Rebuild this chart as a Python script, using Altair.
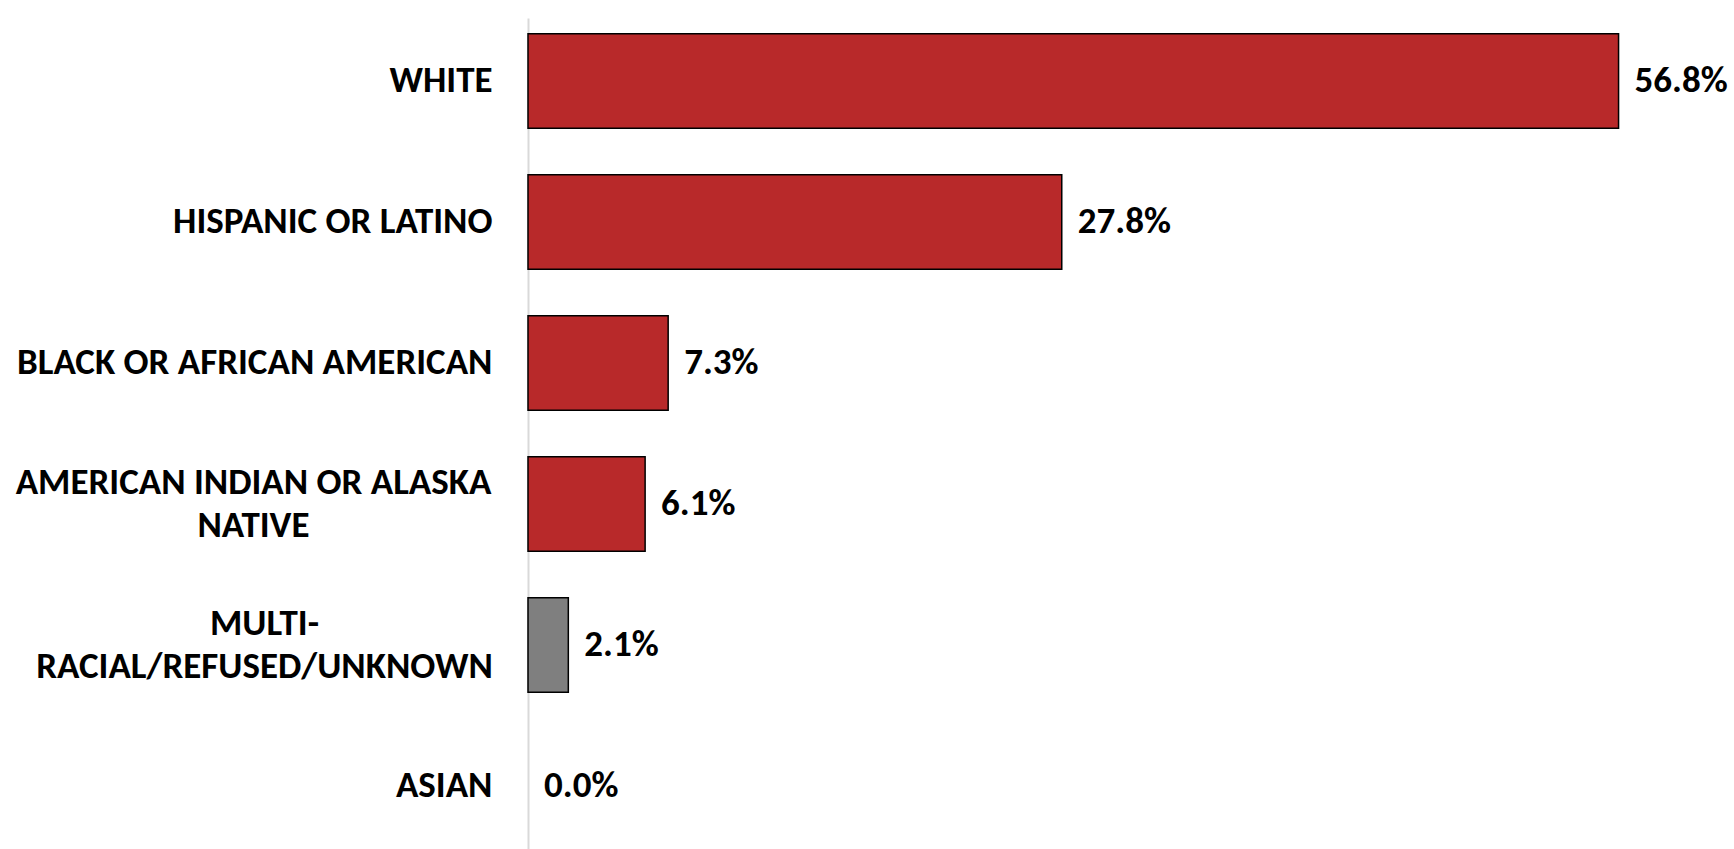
import altair as alt
import pandas as pd

categories = [
    "WHITE",
    "HISPANIC OR LATINO",
    "BLACK OR AFRICAN AMERICAN",
    "AMERICAN INDIAN OR ALASKA|NATIVE",
    "MULTI-|RACIAL/REFUSED/UNKNOWN",
    "ASIAN",
]
values = [56.8, 27.8, 7.3, 6.1, 2.1, 0.0]
groups = ["main", "main", "main", "main", "other", "main"]

df = pd.DataFrame({"category": categories, "value": values, "group": groups})

FONT = "Carlito, Lato, Calibri, sans-serif"
FS = 37

y_enc = alt.Y(
    "category:N",
    sort=categories,
    scale=alt.Scale(paddingInner=0.33, paddingOuter=0.112),
    axis=alt.Axis(
        title=None,
        ticks=False,
        grid=False,
        domainColor="#D9D9D9",
        domainWidth=2,
        labelFont=FONT,
        labelFontSize=FS,
        labelFontWeight="bold",
        labelColor="#000000",
        labelLimit=700,
        labelLineHeight=43,
        labelExpr="split(datum.label, '|')",
    ),
)

bars = alt.Chart(df).mark_bar(stroke="#000000").encode(
    x=alt.X("value:Q", scale=alt.Scale(domain=[0, 60]), axis=None),
    y=y_enc,
    color=alt.Color(
        "group:N",
        scale=alt.Scale(domain=["main", "other"], range=["#B8292A", "#7F7F7F"]),
        legend=None,
    ),
    strokeWidth=alt.condition("datum.value > 0", alt.value(1.5), alt.value(0)),
)

text = alt.Chart(df).transform_calculate(
    lbl="format(datum.value, '.1f') + '%'"
).mark_text(
    align="left", baseline="middle", dx=16, font=FONT, fontSize=FS,
    fontWeight="bold", color="#000000",
).encode(
    x=alt.X("value:Q", scale=alt.Scale(domain=[0, 60])),
    y=alt.Y("category:N", sort=categories),
    text="lbl:N",
)

chart = (bars + text).properties(
    width=1152,
    height=831,
    autosize=alt.AutoSizeParams(type="none"),
    padding={"left": 528, "top": 18, "right": 54, "bottom": 0},
).configure_view(stroke=None)

spec = chart.to_dict()
MULTI_TEST = "indexof(datum.value, 'NATIVE') >= 0 || indexof(datum.value, 'UNKNOWN') >= 0"
for layer in spec["layer"]:
    enc = layer.get("encoding", {})
    if "y" in enc and enc["y"].get("axis"):
        ax = enc["y"]["axis"]
        ax["labelAlign"] = {
            "condition": {"test": MULTI_TEST, "value": "center"},
            "value": "right",
        }
        ax["labelPadding"] = {
            "condition": [
                {"test": "indexof(datum.value, 'NATIVE') >= 0", "value": 275},
                {"test": "indexof(datum.value, 'UNKNOWN') >= 0", "value": 264},
            ],
            "value": 36,
        }
        ax["labelOffset"] = {
            "condition": {"test": MULTI_TEST, "value": -21},
            "value": 0,
        }

final = alt.LayerChart.from_dict(spec)
final.save("out.html", embed_options={"renderer": "svg", "actions": False})
